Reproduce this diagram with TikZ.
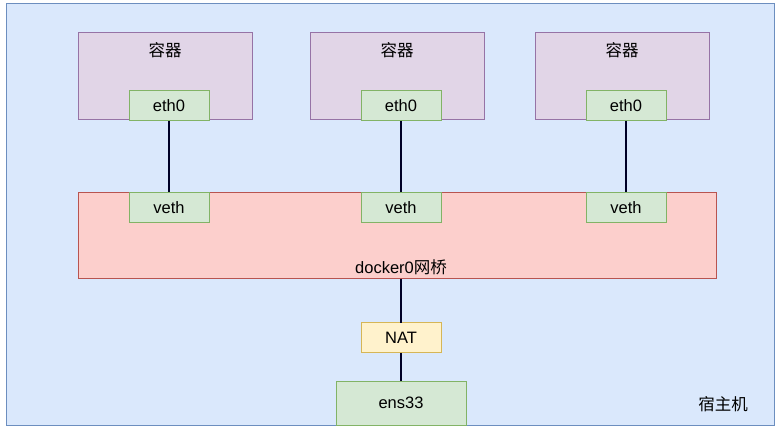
\documentclass[tikz,border=0pt]{standalone}
\usepackage{fontspec}
\setmainfont{Liberation Sans}
\newfontfamily\cjk{Noto Sans CJK SC}
\usetikzlibrary{positioning}

\definecolor{hostfill}{HTML}{DAE8FC}
\definecolor{hostline}{HTML}{6C8EBF}
\definecolor{boxfill}{HTML}{E1D5E7}
\definecolor{boxline}{HTML}{9673A6}
\definecolor{iffill}{HTML}{D5E8D4}
\definecolor{ifline}{HTML}{82B366}
\definecolor{brfill}{HTML}{FCCFCC}
\definecolor{brline}{HTML}{B85450}
\definecolor{natfill}{HTML}{FFF2CC}
\definecolor{natline}{HTML}{D6B656}

\begin{document}
\begin{tikzpicture}[
  x=1pt, y=-1pt,
  every node/.style={inner sep=0pt, outer sep=0pt, font=\fontsize{16.5}{19}\selectfont},
  ctr/.style={rectangle, draw=boxline, fill=boxfill, line width=1pt, minimum width=174pt, minimum height=87pt},
  nic/.style={rectangle, draw=ifline, fill=iffill, line width=1pt, minimum width=80pt, minimum height=30pt},
  link/.style={line width=1.2pt, draw=black!85!blue},
]
\useasboundingbox (0,0) rectangle (782,430);

% === Host ===
\node[rectangle, draw=hostline, fill=hostfill, line width=1pt, minimum width=768pt, minimum height=421pt] (host) at (390,214.5) {};
\node (hostlbl) at (723,404) {\cjk 宿主机};

% === Containers ===
\node[ctr] (c1) at (165,76.5) {};
\node[ctr] (c2) at (397,76.5) {};
\node[ctr] (c3) at (622,76.5) {};
\node (t1) at (165,50) {\cjk 容器};
\node (t2) at (397,50) {\cjk 容器};
\node (t3) at (622,50) {\cjk 容器};

\node[nic] (e1) at (169,106) {eth0};
\node[nic] (e2) at (401,106) {eth0};
\node[nic] (e3) at (626,106) {eth0};

% === Bridge ===
\node[rectangle, draw=brline, fill=brfill, line width=1pt, minimum width=638pt, minimum height=86pt] (br) at (397,236) {};
\node (brlbl) at (401,267) {docker0{\cjk 网桥}};

\node[nic] (v1) at (169,207.5) {veth};
\node[nic] (v2) at (401,207.5) {veth};
\node[nic] (v3) at (626,207.5) {veth};

% === NAT and ens33 ===
\node[rectangle, draw=natline, fill=natfill, line width=1pt, minimum width=80pt, minimum height=30pt] (nat) at (401,338) {NAT};
\node[nic, minimum width=130pt, minimum height=44pt] (ens) at (401,403) {ens33};

% === Links ===
\draw[link] (e1.south) -- (v1.north);
\draw[link] (e2.south) -- (v2.north);
\draw[link] (e3.south) -- (v3.north);
\draw[link] (nat.north |- br.south) -- (nat.north);
\draw[link] (nat.south) -- (ens.north);

\end{tikzpicture}
\end{document}
